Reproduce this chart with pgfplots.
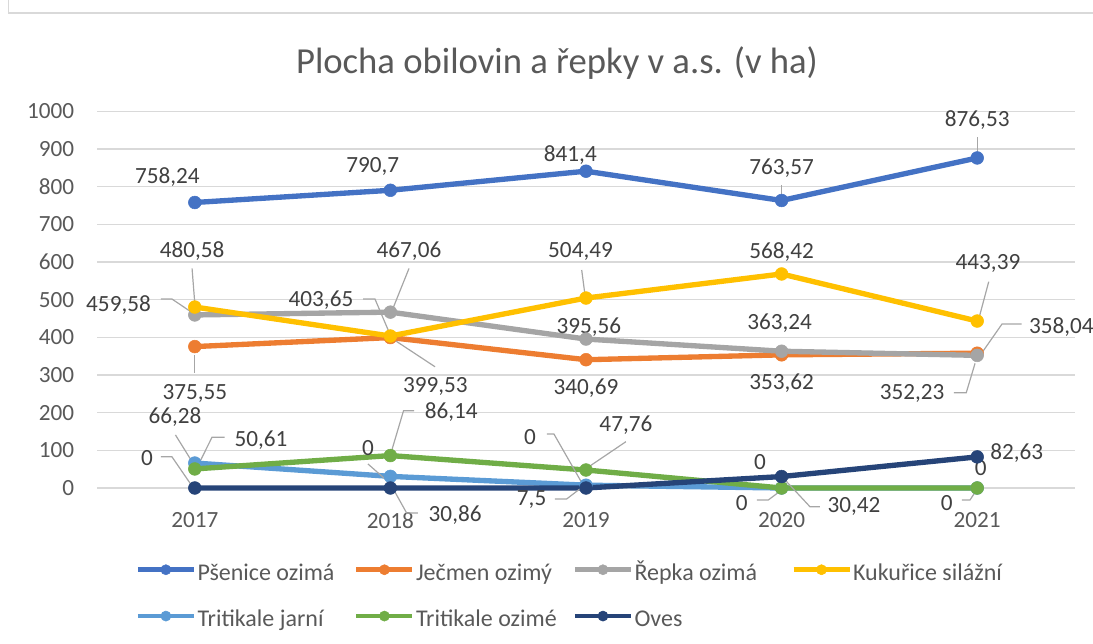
\documentclass[border=0pt]{standalone}
\usepackage{fontspec}
\setmainfont{Carlito}
\usepackage{pgfplots}
\usepackage{pgfplotstable}
\pgfplotsset{compat=1.18}
\definecolor{cPs}{HTML}{4472C4}
\definecolor{cJe}{HTML}{ED7D31}
\definecolor{cRe}{HTML}{A5A5A5}
\definecolor{cKu}{HTML}{FFC000}
\definecolor{cTj}{HTML}{5B9BD5}
\definecolor{cTo}{HTML}{70AD47}
\definecolor{cOv}{HTML}{264478}
\definecolor{gridc}{HTML}{D9D9D9}
\definecolor{tickc}{HTML}{595959}
\definecolor{labc}{HTML}{404040}
\definecolor{leadc}{HTML}{A6A6A6}

\pgfplotstableread{
x psenice jecmen repka kukurice tjarni tozime oves
0 758.24 375.55 459.58 480.58 66.28 50.61 0
1 790.7 399.53 467.06 403.65 30.86 86.14 0
2 841.4 340.69 395.56 504.49 7.5 47.76 0
3 763.57 353.62 363.24 568.42 0 0 30.42
4 876.53 358.04 352.23 443.39 0 0 82.63
}\data

\newcommand\fs{\fontsize{17.4}{21}\selectfont}
\newcommand\fl{\fontsize{18}{22}\selectfont}
\newcommand\st{\rule[-5.5pt]{0pt}{22pt}}
\tikzset{
  lbl/.style={font=\fs, text=labc, inner sep=0pt},
  ld/.style={draw=leadc, line width=0.9pt},
}
\begin{document}
\begin{tikzpicture}[x=0.75pt,y=0.75pt]
\useasboundingbox (0,0) rectangle (1093,643);
\draw[gridc, line width=1pt] (8.4,660) -- (8.4,630) -- (1110,630);
\node[font=\fontsize{27.5}{32}\selectfont, text=tickc] at (557,580) {Plocha obilovin a řepky v a.s. (v ha)};
\begin{axis}[
  at={(72.75pt,116.25pt)}, anchor=south west,
  scale only axis, width=733.5pt, height=282.4pt,
  xmin=-0.5, xmax=4.5, ymin=0, ymax=1000,
  xtick={0,1,2,3,4}, xticklabels={2017,2018,2019,2020,2021},
  ytick={0,100,...,1000},
  /pgf/number format/1000 sep={},
  /pgf/number format/assume math mode=true,
  ymajorgrids, grid style={draw=gridc, line width=1pt},
  axis line style={draw=none}, tick style={draw=none},
  xticklabel style={font=\fs, text=tickc, inner sep=0pt, yshift=-18pt},
  yticklabel style={font=\fs, text=tickc, inner sep=0pt, xshift=-17pt},
  clip=false,
  every axis plot/.append style={line width=4pt, mark=*, mark size=4.8pt, mark options={line width=0.4pt}},
  legend columns=4,
  legend style={draw=none, fill=none, inner sep=0pt, outer sep=0pt,
    at={(0.0395,-0.187)}, anchor=north west, row sep=16.75pt,
    font=\fl, text=tickc, nodes={inner sep=0pt},
    /tikz/every odd column/.style={column sep=1pt},
    /tikz/every even column/.style={column sep=0pt}},
  legend image code/.code={
    \draw[#1, line width=3.4pt] (0pt,0.5pt) -- (42pt,0.5pt);
    \draw[#1, line width=0.4pt, mark size=3.8pt] plot coordinates {(21pt,0.5pt)};
  },
]
\addplot[color=cPs] table[x=x,y=psenice]{\data};
\addlegendentry{\st\makebox[117.5pt][l]{Pšenice ozimá}}
\addplot[color=cJe] table[x=x,y=jecmen]{\data};
\addlegendentry{\st\makebox[117.5pt][l]{Ječmen ozimý}}
\addplot[color=cRe] table[x=x,y=repka]{\data};
\addlegendentry{\st\makebox[117.5pt][l]{Řepka ozimá}}
\addplot[color=cKu] table[x=x,y=kukurice]{\data};
\addlegendentry{\st\makebox[117.5pt][l]{Kukuřice silážní}}
\addplot[color=cTj] table[x=x,y=tjarni]{\data};
\addlegendentry{\st\makebox[117.5pt][l]{Tritikale jarní}}
\addplot[color=cTo] table[x=x,y=tozime]{\data};
\addlegendentry{\st\makebox[117.5pt][l]{Tritikale ozimé}}
\addplot[color=cOv] table[x=x,y=oves]{\data};
\addlegendentry{\st\makebox[117.5pt][l]{Oves}}

% leader lines
\draw[ld] (axis cs:3,805) -- (axis cs:3,778);
\draw[ld] (axis cs:4,932) -- (axis cs:4,890);
\draw[ld] (axis cs:0,353) -- (axis cs:0,305);
\draw[ld] (axis cs:1.0,400) -- (axis cs:1.228,322);
\draw[ld] (axis cs:4.227,435.6) -- (axis cs:4.127,435.6) -- (axis cs:4.028,362);
\draw[ld] (axis cs:-0.173,502) -- (axis cs:-0.117,502) -- (axis cs:-0.02,468);
\draw[ld] (axis cs:1.095,583) -- (axis cs:1.013,477);
\draw[ld] (axis cs:3.881,253) -- (axis cs:3.944,253) -- (axis cs:3.989,331);
\draw[ld] (axis cs:-0.014,583) -- (axis cs:0,490);
\draw[ld] (axis cs:1.978,579) -- (axis cs:1.995,512);
\draw[ld] (axis cs:4.059,548) -- (axis cs:4.009,451);
\draw[ld] (axis cs:0.86,502) -- (axis cs:0.921,502) -- (axis cs:1.003,402);
\draw[ld] (axis cs:-0.099,141) -- (axis cs:-0.014,70);
\draw[ld] (axis cs:0.152,134.7) -- (axis cs:0.088,134.7) -- (axis cs:0.009,52);
\draw[ld] (axis cs:-0.173,83) -- (axis cs:-0.117,83) -- (axis cs:-0.014,5);
\draw[ld] (axis cs:0.885,64) -- (axis cs:1.003,10);
\draw[ld] (axis cs:1.121,205) -- (axis cs:1.067,205) -- (axis cs:1.003,93);
\draw[ld] (axis cs:0.998,13) -- (axis cs:1.083,-66.4) -- (axis cs:1.141,-66.4);
\draw[ld] (axis cs:1.80,143.4) -- (axis cs:1.836,143.4) -- (axis cs:1.99,3.5);
\draw[ld] (axis cs:1.841,-29.2) -- (axis cs:1.901,-29.2) -- (axis cs:1.995,8);
\draw[ld] (axis cs:2.204,123) -- (axis cs:2.015,56.6);
\draw[ld] (axis cs:2.873,-31.9) -- (axis cs:2.932,-31.9) -- (axis cs:3.0,-5.3);
\draw[ld] (axis cs:3.002,30) -- (axis cs:3.145,-49.7) -- (axis cs:3.196,-49.7);
\draw[ld] (axis cs:3.921,-31.9) -- (axis cs:3.963,-31.9) -- (axis cs:3.997,-5.3);

% data labels
\node[lbl] at (axis cs:-0.14,827) {758,24};
\node[lbl] at (axis cs:0.91,853) {790,7};
\node[lbl] at (axis cs:1.92,884) {841,4};
\node[lbl] at (axis cs:3.0,849) {763,57};
\node[lbl] at (axis cs:4.0,977) {876,53};
\node[lbl] at (axis cs:0,252) {375,55};
\node[lbl] at (axis cs:1.23,269) {399,53};
\node[lbl] at (axis cs:2,265) {340,69};
\node[lbl] at (axis cs:3.0,278) {353,62};
\node[lbl,anchor=west] at (axis cs:4.2637,428) {358,04};
\node[lbl] at (axis cs:-0.39,486) {459,58};
\node[lbl] at (axis cs:1.095,630) {467,06};
\node[lbl] at (axis cs:2.015,428) {395,56};
\node[lbl] at (axis cs:2.99,437) {363,24};
\node[lbl] at (axis cs:3.667,251.5) {352,23};
\node[lbl] at (axis cs:-0.014,630) {480,58};
\node[lbl] at (axis cs:1.972,627.6) {504,49};
\node[lbl] at (axis cs:3.0,627.6) {568,42};
\node[lbl] at (axis cs:4.055,596.8) {443,39};
\node[lbl] at (axis cs:0.645,499.3) {403,65};
\node[lbl] at (axis cs:-0.101,189) {66,28};
\node[lbl] at (axis cs:0.338,127.5) {50,61};
\node[lbl] at (axis cs:-0.244,78.9) {0};
\node[lbl] at (axis cs:0.885,105.4) {0};
\node[lbl] at (axis cs:1.311,202.6) {86,14};
\node[lbl] at (axis cs:1.331,-71.7) {30,86};
\node[lbl] at (axis cs:1.714,136.3) {0};
\node[lbl] at (axis cs:1.722,-31.9) {7,5};
\node[lbl] at (axis cs:2.204,167.3) {47,76};
\node[lbl] at (axis cs:2.889,69.9) {0};
\node[lbl] at (axis cs:2.796,-40.6) {0};
\node[lbl] at (axis cs:3.37,-49.7) {30,42};
\node[lbl] at (axis cs:3.844,-40.6) {0};
\node[lbl] at (axis cs:4.018,52.3) {0};
\node[lbl] at (axis cs:4.202,92.2) {82,63};
\end{axis}
\end{tikzpicture}
\end{document}
